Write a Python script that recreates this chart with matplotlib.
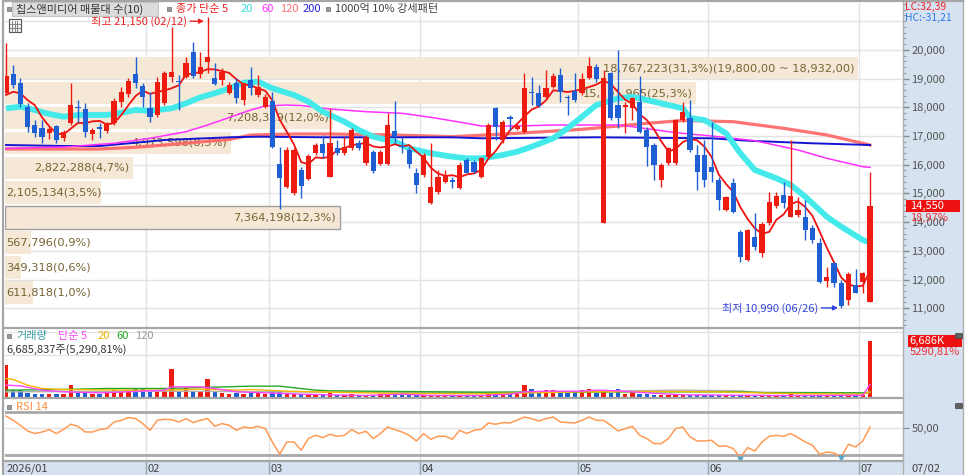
import numpy as np
import pandas as pd
import matplotlib
matplotlib.use('Agg')
import matplotlib.pyplot as plt
from matplotlib.patches import Rectangle
from matplotlib.lines import Line2D
from matplotlib.transforms import blended_transform_factory

plt.rcParams['font.family'] = ['Noto Sans CJK KR', 'DejaVu Sans']

W, H = 966, 475

# ---- 일봉 데이터 (2026/01 ~ 07/02) ----
opens = [18490, 19160, 18860, 18000, 17380, 17270, 17120, 17350, 16920, 17440,
         18020, 17930, 17070, 17320, 17190, 17440, 18200, 18460, 19160, 18740,
         17970, 17730, 18140, 19050, 18930, 19070, 19940, 19160, 19590, 19010,
         18950, 18490, 18860, 18250, 18950, 18430, 18020, 18230, 16020, 15230,
         15000, 15820, 15490, 16420, 16720, 15580, 16570, 16400, 16570, 16750,
         16050, 16450, 16020, 16020, 17190, 16650, 16510, 15720, 15640, 14660,
         15060, 15410, 15470, 15180, 16160, 16110, 15560, 16260, 17970, 16860,
         17650, 17230, 17150, 18540, 18490, 18370, 18720, 19130, 18330, 18580,
         18490, 19010, 19420, 13960, 19180, 18080, 18020, 17970, 18200, 17210,
         16690, 15470, 16050, 16050, 17560, 17630, 16340, 16340, 15930, 15470,
         14420, 15350, 13670, 12680, 13470, 12930, 13960, 14560, 14940, 14170,
         14250, 14190, 13780, 13280, 11960, 12590, 11870, 11290, 11810, 11920,
         11230]
highs = [20230, 19470, 19010, 18140, 17560, 17560, 17320, 17380, 17210, 18840,
         18250, 18140, 17270, 17440, 17500, 18310, 18720, 19010, 19760, 18840,
         18540, 19070, 19270, 20810, 19130, 19760, 20290, 19940, 21150, 19530,
         19360, 18880, 19010, 18860, 19420, 19130, 18450, 18540, 16630, 16630,
         16580, 15930, 16360, 16760, 17040, 17950, 16860, 16950, 17290, 16860,
         17040, 16510, 16510, 17790, 18230, 16980, 16630, 15880, 16420, 16750,
         15820, 15800, 15580, 16110, 16220, 16160, 16280, 17440, 18020, 17560,
         17730, 17420, 19180, 19070, 18780, 19300, 19180, 19360, 18430, 19180,
         19180, 19760, 19500, 19300, 19240, 20000, 18200, 18370, 19090, 17320,
         16750, 16050, 16630, 17600, 18190, 18250, 16690, 16860, 17500, 15580,
         14900, 15530, 13730, 13760, 14310, 14010, 15060, 15060, 15410, 16860,
         14890, 14770, 13900, 13440, 12450, 12620, 11980, 12270, 12360, 12270,
         15760]
lows = [18450, 18670, 18020, 17150, 16960, 16750, 16890, 16770, 16840, 17380,
        17500, 16980, 16860, 16920, 17090, 17380, 18020, 18350, 18660, 18020,
        17500, 17670, 18080, 18890, 17910, 19010, 19010, 19010, 19180, 18780,
        18780, 18450, 18140, 18080, 18430, 18370, 17970, 16570, 14450, 15180,
        14950, 14830, 15450, 16350, 16220, 15560, 16340, 16350, 16500, 16500,
        16000, 15700, 15980, 15980, 16750, 16400, 15880, 15000, 15580, 14620,
        14980, 15350, 15180, 15140, 15700, 15700, 15530, 16220, 16860, 16750,
        17210, 17200, 17120, 18080, 18020, 18310, 18660, 18200, 17730, 18200,
        18430, 18980, 18870, 13960, 17560, 17270, 17090, 17560, 17090, 15960,
        15470, 15230, 16000, 16000, 17500, 16450, 15120, 15230, 15410, 14420,
        14400, 14310, 12620, 12650, 13030, 12800, 13900, 14480, 14480, 14170,
        14190, 13380, 13260, 11870, 11750, 11750, 10990, 11100, 11520, 11520,
        11230]
closes = [19090, 18780, 18120, 17300, 17090, 16960, 17230, 16860, 17150, 18080,
          17970, 17150, 17210, 17230, 17440, 18230, 18540, 18930, 18840, 18370,
          17650, 18890, 19180, 19240, 18870, 19530, 19090, 19420, 19740, 18810,
          19240, 18780, 18310, 18840, 18660, 18720, 18350, 16630, 15530, 16510,
          16510, 15260, 16300, 16690, 16400, 16750, 16420, 16630, 17210, 16570,
          16980, 15790, 16450, 17380, 16960, 16610, 16020, 15290, 16340, 15230,
          15580, 15610, 15410, 15990, 15720, 15760, 16220, 17380, 17300, 17500,
          17600, 17350, 18660, 18490, 18050, 18660, 19100, 18540, 18310, 18250,
          18990, 19440, 18980, 19010, 17620, 17620, 18080, 18310, 17150, 16630,
          15990, 15990, 16570, 17560, 17840, 16510, 15760, 15470, 15760, 14770,
          14890, 14360, 12800, 13730, 13140, 13930, 14710, 14910, 14660, 14910,
          14420, 13730, 13380, 11920, 12100, 11870, 11080, 12190, 11540, 12230,
          14550]
# 거래량 (천주)
volumes = [3894, 944, 944, 555, 472, 389, 389, 389, 472, 1451,
           555, 673, 472, 472, 555, 861, 791, 861, 1062, 1062,
           673, 861, 791, 3422, 743, 1180, 743, 791, 2242, 673,
           555, 472, 555, 472, 791, 555, 472, 791, 791, 472,
           472, 389, 389, 319, 319, 555, 319, 319, 389, 319,
           271, 271, 389, 472, 673, 271, 271, 271, 271, 236,
           236, 236, 236, 236, 236, 236, 236, 472, 555, 319,
           389, 389, 1451, 979, 673, 861, 861, 673, 555, 673,
           861, 1062, 555, 673, 555, 1062, 472, 625, 472, 389,
           319, 319, 319, 319, 319, 319, 319, 319, 319, 319,
           300, 319, 354, 319, 300, 319, 300, 300, 300, 673,
           300, 280, 280, 300, 280, 280, 300, 280, 270, 280,
           6686]
rsi14 = [65.1, 59.6, 53.2, 45.9, 42.6, 44.6, 47.7, 42.6, 48.1, 54.5,
         51.9, 44.6, 44.6, 47.7, 49.0, 57.4, 59.6, 63.1, 61.8, 55.4,
         46.8, 59.6, 60.9, 60.5, 57.4, 61.8, 56.7, 59.6, 61.8, 51.9,
         55.4, 53.2, 46.8, 51.0, 49.7, 51.9, 49.0, 31.8, 16.0, 31.8,
         31.8, 21.2, 36.2, 40.4, 37.4, 41.7, 39.1, 40.4, 47.7, 42.6,
         45.5, 36.2, 42.6, 51.0, 47.7, 44.6, 40.4, 33.1, 42.6, 35.3,
         39.1, 39.1, 35.3, 46.8, 42.6, 46.8, 48.0, 56.2, 54.5, 56.7,
         56.2, 60.0, 63.8, 61.8, 58.7, 61.8, 63.8, 57.4, 56.7, 56.2,
         59.6, 63.8, 59.6, 59.6, 53.2, 45.9, 49.0, 51.9, 40.4, 36.2,
         29.7, 29.7, 36.2, 49.0, 51.0, 38.2, 33.1, 33.1, 34.0, 26.3,
         26.7, 23.3, 11.8, 24.6, 20.3, 31.8, 39.1, 40.4, 39.1, 42.6,
         37.4, 31.8, 27.6, 16.0, 19.0, 17.7, 12.6, 28.8, 25.4, 33.1,
         51.0]

# 이동평균
ma5_head = [18430, 18540, 18490, 18250]
ma20_idx = [0, 2, 4, 6, 8, 10, 12, 14, 16, 18, 20, 21, 23, 25, 27, 29, 31, 33, 35, 37,
            40, 42, 44, 47, 49, 51, 54, 56, 59, 62, 64, 66, 69, 71, 73, 76, 78, 80, 82, 85,
            87, 89, 92, 94, 95, 97, 100, 102, 104, 107, 109, 111, 114, 116, 119, 120]
ma20_val = [17965, 18020, 17906, 17766, 17672, 17732, 17732, 17732, 17812, 17906,
            17882, 17906, 17965, 18139, 18348, 18488, 18662, 18857, 18892, 18662,
            18428, 18195, 17847, 17498, 17209, 16976, 16801, 16571, 16397, 16279,
            16223, 16223, 16338, 16453, 16627, 16920, 17268, 17672, 18080, 18313,
            18369, 18254, 18080, 17965, 17627, 17557, 17094, 16397, 15815, 15526,
            15293, 14885, 14188, 13840, 13377, 13283]
ma60_idx = [0, 8, 15, 20, 25, 28, 31, 34, 36, 39, 41, 45, 50, 55, 59, 64, 66, 71, 76, 80,
            85, 87, 92, 94, 98, 104, 110, 114, 119, 120]
ma60_val = [16571, 16617, 16746, 16920, 17150, 17383, 17645, 17906, 18045, 18080,
            18063, 17941, 17847, 17791, 17652, 17442, 17348, 17348, 17383, 17383,
            17383, 17324, 17150, 17094, 17000, 16836, 16512, 16223, 15930, 15909]
ma120_idx = [0, 13, 18, 22, 31, 34, 40, 45, 54, 62, 71, 80, 85, 89, 94, 101, 108, 114, 120]
ma120_val = [16547, 16547, 16606, 16686, 16878, 17035, 17070, 17070, 17035, 16976,
             17094, 17233, 17348, 17442, 17540, 17498, 17268, 17035, 16686]
ma200_idx = [0, 8, 13, 18, 22, 31, 35, 44, 62, 66, 82, 98, 103, 112, 120]
ma200_val = [16686, 16652, 16652, 16767, 16861, 16955, 16976, 16955, 16955, 16920,
             16955, 16920, 16836, 16746, 16686]

# 거래량 이동평균 (천주)
vma5_idx = [0, 2, 5, 8, 13, 18, 22, 23, 27, 29, 32, 36, 41, 45, 50, 55, 59, 66, 70, 72,
            75, 80, 82, 85, 89, 94, 108, 119, 120]
vma5_val = [1455, 1377, 865, 669, 550, 708, 865, 1259, 1259, 1062, 669, 550, 393, 315, 236,
            393, 236, 236, 393, 669, 743, 743, 865, 787, 550, 315, 236, 270, 1560]
vma20_idx = [0, 1, 3, 5, 8, 18, 22, 27, 32, 34, 39, 45, 50, 55, 66, 80, 89, 98, 101, 108, 119, 120]
vma20_val = [2242, 2124, 1455, 1062, 944, 865, 865, 983, 865, 944, 747, 629, 550, 472, 437,
             669, 708, 669, 629, 472, 393, 669]
vma60_idx = [0, 8, 14, 22, 34, 38, 43, 45, 55, 66, 89, 102, 106, 119, 120]
vma60_val = [865, 944, 1062, 1062, 1338, 1338, 865, 787, 708, 629, 669, 669, 550, 550, 629]
vma120_idx = [0, 22, 45, 66, 80, 93, 102, 104, 119, 120]
vma120_val = [669, 747, 629, 590, 708, 865, 787, 629, 550, 590]

# 매물대 (10개 구간)
band_edges = [19800, 18932, 18064, 17196, 16328, 15460, 14592, 13724, 12856, 11988, 11120]
band_vol = [18767223, 15201965, 7208319, 4973598, 2822288, 2105134, 7364198, 567796, 349318, 611818]

month_labels = ['2026/01', '02', '03', '04', '05', '06', '07']
month_start = [0, 20, 37, 58, 80, 98, 119]
hi_date, lo_date = '02/12', '06/26'
last_date = '07/02'
vol_last = 6685837
vol_change = 5290.81
lc_text, hc_text = 'LC:32,39', 'HC:-31,21'

RED = '#ee1c10'
BLUE = '#1f5fd4'
BEIGE = '#f6e8d6'
GRID = '#e3e3e3'
PANEL = '#d6e2f0'


def rect(x0, y0, x1, y1):
    return [x0 / W, 1 - y1 / H, (x1 - x0) / W, (y1 - y0) / H]


def ftext(px, py, s, **kw):
    kw.setdefault('va', 'center')
    kw.setdefault('fontsize', 8)
    return fig.text(px / W, 1 - py / H, s, **kw)


def fbox(x0, y0, x1, y1, **kw):
    fig.add_artist(Rectangle((x0 / W, 1 - y1 / H), (x1 - x0) / W, (y1 - y0) / H,
                             transform=fig.transFigure, **kw))


def fline(x0, y0, x1, y1, **kw):
    fig.add_artist(Line2D([x0 / W, x1 / W], [1 - y0 / H, 1 - y1 / H],
                          transform=fig.transFigure, **kw))


fig = plt.figure(figsize=(W / 100, H / 100), dpi=100)
fig.patch.set_facecolor('white')

fbox(903, 1, 963, 475, fc=PANEL, ec='none', zorder=-2)
fbox(3, 461.5, 903, 475, fc=PANEL, ec='none', zorder=-2)

ax_p = fig.add_axes(rect(5, 3, 903, 327.5))
ax_v = fig.add_axes(rect(5, 328.5, 903, 397.5))
ax_r = fig.add_axes(rect(5, 399.5, 903, 461))
ax_x = fig.add_axes(rect(5, 462, 903, 475))

n = len(closes)
idx = np.arange(n)
o, h, l, c = (np.array(a, dtype=float) for a in (opens, highs, lows, closes))
col = np.where(c >= o, RED, BLUE)
xlim = (-0.14, 124.58)

for ax in (ax_p, ax_v, ax_r, ax_x):
    ax.set_xlim(*xlim)
    ax.set_xticks([])
    for s in ax.spines.values():
        s.set_visible(False)
    for m in month_start[1:]:
        ax.axvline(m - 0.5, color=GRID if ax is not ax_x else '#9aa4b0', lw=1, zorder=0)

# ---- 가격 패널 ----
ax_p.set_ylim(10328, 21634)
for p in range(11000, 21001, 1000):
    ax_p.axhline(p, color=GRID, lw=1, zorder=0)

total = sum(band_vol)
box_right = 118.3
for k, v in enumerate(band_vol):
    hi, lo = band_edges[k], band_edges[k + 1]
    length = v / max(band_vol) * (box_right - xlim[0])
    cur = lo <= closes[-1] < hi
    ax_p.barh((hi + lo) / 2, length, height=(hi - lo) * 0.9, left=xlim[0], color=BEIGE,
              edgecolor='#a0a0a0' if cur else 'none', lw=1, zorder=1)
    pct = f'{v / total * 100:.1f}'.replace('.', ',')
    label = f'{v:,}({pct}%)'
    if k == 0:
        label += f'({hi:,},00 ~ {lo:,},00)'
    if v / total >= 0.04:
        ax_p.text(xlim[0] + length - 0.5, (hi + lo) / 2, label, ha='right', va='center',
                  fontsize=8.2, color='#776334', family='DejaVu Sans', zorder=2)
    else:
        ax_p.text(0.05, (hi + lo) / 2, label, ha='left', va='center',
                  fontsize=8.2, color='#776334', family='DejaVu Sans', zorder=2)

ma5 = pd.Series(closes).rolling(5).mean().to_numpy()
ma5[:len(ma5_head)] = ma5_head
ax_p.plot(ma120_idx, ma120_val, color='#ff6464', lw=2.3, alpha=0.9, zorder=3)
ax_p.plot(ma200_idx, ma200_val, color='#1414d2', lw=1.4, zorder=3.2)
ax_p.plot(ma60_idx, ma60_val, color='#ff30ff', lw=1.1, zorder=3.4)
ax_p.plot(ma20_idx, ma20_val, color='#44eaea', lw=4.2, solid_capstyle='butt', zorder=3.6)
ax_p.plot(idx, ma5, color='#ee1111', lw=1.3, zorder=4)

ax_p.vlines(idx, l, h, colors=col, lw=1, zorder=5)
ax_p.bar(idx, np.maximum(np.abs(c - o), 35), bottom=np.minimum(o, c), width=0.72,
         color=col, lw=0, zorder=6)

hi_i = int(np.argmax(h))
lo_i = int(np.argmin(l))
ax_p.annotate(f'최고 {highs[hi_i]:,} ({hi_date})', xy=(hi_i - 0.5, highs[hi_i] - 150),
              xytext=(-12, 0), textcoords='offset points', ha='right', va='center',
              color='#ee2222', fontsize=8, zorder=8,
              arrowprops=dict(arrowstyle='-|>', color='#ee2222', lw=1, shrinkA=0, shrinkB=0,
                              mutation_scale=7))
ax_p.annotate(f'최저 {lows[lo_i]:,} ({lo_date})', xy=(lo_i - 0.45, lows[lo_i] + 20),
              xytext=(-14, 0), textcoords='offset points', ha='right', va='center',
              color='#3344dd', fontsize=8, zorder=8,
              arrowprops=dict(arrowstyle='-|>', color='#3344dd', lw=1, shrinkA=0, shrinkB=0,
                              mutation_scale=7))

ax_p.yaxis.tick_right()
ax_p.set_yticks(range(11000, 20001, 1000))
ax_p.set_yticklabels([f'{p:,}' for p in range(11000, 20001, 1000)])
ax_p.set_yticks(range(10400, 21601, 200), minor=True)
ax_p.tick_params(axis='y', which='major', length=4, width=1, color='#888888',
                 labelsize=8, labelcolor='#555555', pad=2)
ax_p.tick_params(axis='y', which='minor', length=2, width=0.8, color='#999999')

blend_p = blended_transform_factory(ax_p.transAxes, ax_p.transData)
ax_p.add_patch(Rectangle((1.003, closes[-1] - 210), 0.0607, 420, transform=blend_p,
                         fc='#ee1111', ec='none', clip_on=False, zorder=9))
ax_p.text(1.0075, closes[-1], f'{closes[-1]:,}', transform=blend_p, color='white',
          fontsize=8, va='center', ha='left', clip_on=False, zorder=10)
chg = (closes[-1] / closes[-2] - 1) * 100
ax_p.text(1.0075, closes[-1] - 400, f'{chg:.2f}%'.replace('.', ','), transform=blend_p,
          color='#ee3333', fontsize=8, va='center', ha='left', clip_on=False, zorder=10)

# ---- 거래량 패널 ----
ax_v.set_ylim(0, 8142)
for g in (5000, 7750):
    ax_v.axhline(g, color=GRID, lw=1, zorder=0)
ax_v.bar(idx, volumes, width=0.6, color=col, lw=0, zorder=3)
ax_v.plot(vma120_idx, vma120_val, color='#b0b0b0', lw=1, zorder=4)
ax_v.plot(vma60_idx, vma60_val, color='#22aa22', lw=1, zorder=4)
ax_v.plot(vma20_idx, vma20_val, color='#f5b800', lw=1, zorder=4)
ax_v.plot(vma5_idx, vma5_val, color='#ff44ff', lw=1, zorder=4)
ax_v.set_yticks([])
blend_v = blended_transform_factory(ax_v.transAxes, ax_v.transData)
ax_v.add_patch(Rectangle((1.0056, volumes[-1] - 690), 0.0601, 1380, transform=blend_v,
                         fc='#ee1111', ec='none', clip_on=False, zorder=9))
ax_v.text(1.0075, volumes[-1], f'{round(vol_last / 1000):,}K', transform=blend_v,
          color='white', fontsize=8, va='center', ha='left', clip_on=False, zorder=10)
ax_v.text(1.0075, volumes[-1] - 1270, f'{vol_change:.2f}%'.replace('.', ','),
          transform=blend_v, color='#ee3333', fontsize=8, va='center', ha='left',
          clip_on=False, zorder=10)

# ---- RSI 패널 ----
ax_r.set_ylim(7.4, 86.3)
ax_r.axhline(70, color='#a8a8a8', lw=2, zorder=1)
ax_r.axhline(15, color='#a8a8a8', lw=2, zorder=1)
ax_r.axhline(50, color=GRID, lw=1, zorder=0)
ax_r.plot(idx, rsi14, color='#ff9a55', lw=1.1, zorder=3)
rsi_arr = np.array(rsi14)
sig = np.where(rsi_arr < 14)[0]
ax_r.plot(sig, rsi_arr[sig] - 1.5, 'v', ms=3.5, color='#55aacc', zorder=4)
ax_r.yaxis.tick_right()
ax_r.set_yticks([50])
ax_r.set_yticklabels(['50,00'])
ax_r.tick_params(axis='y', length=4, color='#888888', labelsize=8, labelcolor='#555555', pad=2)

# ---- 날짜 축 ----
ax_x.set_facecolor(PANEL)
ax_x.set_ylim(0, 1)
ax_x.set_yticks([])
for lab, m in zip(month_labels, month_start):
    xpos = 0.05 if m == 0 else m - 0.5 + 0.2
    ax_x.text(xpos, 0.45, lab, ha='left', va='center', fontsize=8, color='#444444')

# ---- 테두리/구분선 ----
for yy in (327.9, 398.4, 461.4):
    fline(3, yy, 903, yy, color='#a6a6a6', lw=1.6)
fline(903, 1, 903, 475, color='#b0b0b0', lw=1)
fline(963, 1, 963, 475, color='#b0b0b0', lw=1)
fline(3, 1, 3, 475, color='#a6a6a6', lw=1.6)
fline(3, 1, 963, 1, color='#a6a6a6', lw=1.6)

# ---- 범례 ----
fbox(12, 2, 158, 16, fc='#dcdcdc', ec='#c4c4c4', lw=0.8)
for sx in (7, 166.5, 326):
    fbox(sx, 7, sx + 4, 11, fc='#9a9a9a', ec='#707070', lw=0.5)
ftext(16, 9, '칩스앤미디어 매물대 수(10)', color='#333333')
ftext(176.5, 9, '종가 단순 5', color='#ee2222')
ftext(241, 9, '20', color='#33dddd')
ftext(261, 9, '60', color='#ff33ff')
ftext(280, 9, '120', color='#ff7070')
ftext(303, 9, '200', color='#2222dd')
ftext(335, 9, '1000억 10% 강세패턴', color='#444444')

fbox(8.5, 19, 21, 32, fc='#f2f2f2', ec='#555555', lw=0.8)
for gy in (23.5, 27.5):
    fline(10, gy, 19.5, gy, color='#777777', lw=0.6)
for gx in (12.3, 14.8, 17.3):
    fline(gx, 21, gx, 30.5, color='#777777', lw=0.6)

fbox(7, 334, 11, 338, fc='#9a9a9a', ec='#707070', lw=0.5)
ftext(16.5, 336, '거래량', color='#3aa0a8')
ftext(58, 336, '단순 5', color='#ff44ff')
ftext(97.5, 336, '20', color='#f0b000')
ftext(116, 336, '60', color='#22aa22')
ftext(135, 336, '120', color='#999999')
ftext(6, 349.5, f'{vol_last:,}주({vol_change:,.2f}%)'.replace('.', ','), color='#333333')

fbox(7, 405, 11, 409, fc='#9a9a9a', ec='#707070', lw=0.5)
ftext(16.5, 407, 'RSI 14', color='#ff8c40')

ftext(905, 6.5, lc_text, color='#ee2222', fontsize=7.5)
ftext(905, 17.5, hc_text, color='#3377ee', fontsize=7.5)
fbox(955, 332.5, 961.5, 338, fc='#606060', ec='#404040', lw=0.5, zorder=12)
fbox(955, 402.5, 961.5, 408, fc='#606060', ec='#404040', lw=0.5, zorder=12)
ftext(911.5, 469, last_date, color='#444444')

fig.savefig('out.png', dpi=100)
